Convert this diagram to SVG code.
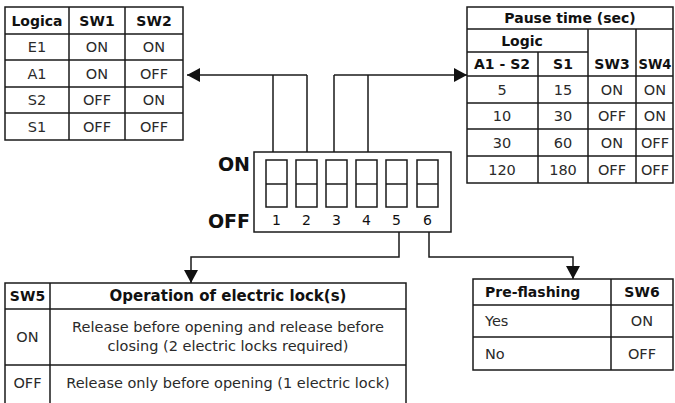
<svg xmlns="http://www.w3.org/2000/svg" width="675" height="403" viewBox="0 0 675 403">
<defs>
<style>
.ln{stroke:#1a1a1a;stroke-width:1.5;fill:none}
.bx{stroke:#1a1a1a;stroke-width:1.5;fill:#fff}
text{font-family:"DejaVu Sans","Liberation Sans",sans-serif;font-size:14.5px;fill:#2a2a2a;text-anchor:middle}
.b{font-weight:bold;font-size:14px;fill:#111}
.l{text-anchor:start}
.n{font-size:14px;fill:#111}
.big{font-size:19px;font-weight:bold;fill:#111;text-anchor:end}
</style>
<marker id="ah" viewBox="0 0 14 14" refX="13" refY="7" markerWidth="14" markerHeight="14" markerUnits="userSpaceOnUse" orient="auto">
<path d="M0,0 L13,7 L0,14 Z" fill="#111"/>
</marker>
</defs>
<rect width="675" height="403" fill="#fff"/>

<g id="table-logica">
<rect class="bx" x="5" y="7" width="178" height="133"/>
<path class="ln" d="M5 34H183M5 60H183M5 87H183M5 113H183M69 7V140M125 7V140"/>
<text class="b" x="37" y="26">Logica</text>
<text class="b" x="97" y="26">SW1</text>
<text class="b" x="154" y="26">SW2</text>
<text x="37" y="52">E1</text><text x="97" y="52">ON</text><text x="154" y="52">ON</text>
<text x="37" y="79">A1</text><text x="97" y="79">ON</text><text x="154" y="79">OFF</text>
<text x="37" y="105">S2</text><text x="97" y="105">OFF</text><text x="154" y="105">ON</text>
<text x="37" y="132">S1</text><text x="97" y="132">OFF</text><text x="154" y="132">OFF</text>
</g>

<g id="table-pause">
<rect class="bx" x="467" y="7" width="206" height="176"/>
<path class="ln" d="M467 29H673M467 52H588M467 76H673M467 103H673M467 129H673M467 156H673M538 52V183M588 29V183M636 29V183"/>
<text class="b" x="570" y="23">Pause time (sec)</text>
<text class="b" x="522" y="46">Logic</text>
<text class="b" x="502" y="69">A1 - S2</text>
<text class="b" x="563" y="69">S1</text>
<text class="b" x="612" y="69">SW3</text>
<text class="b" x="655" y="69" textLength="33" lengthAdjust="spacingAndGlyphs">SW4</text>
<text x="502" y="95">5</text><text x="563" y="95">15</text><text x="612" y="95">ON</text><text x="655" y="95">ON</text>
<text x="502" y="121">10</text><text x="563" y="121">30</text><text x="612" y="121">OFF</text><text x="655" y="121">ON</text>
<text x="502" y="148">30</text><text x="563" y="148">60</text><text x="612" y="148">ON</text><text x="655" y="148">OFF</text>
<text x="502" y="175">120</text><text x="563" y="175">180</text><text x="612" y="175">OFF</text><text x="655" y="175">OFF</text>
</g>

<g id="dip-switch">
<rect class="bx" x="254" y="152" width="197" height="80"/>
<g class="ln">
<rect x="266" y="160" width="21" height="47"/><path d="M266 184H287"/>
<rect x="296" y="160" width="21" height="47"/><path d="M296 184H317"/>
<rect x="326" y="160" width="21" height="47"/><path d="M326 184H347"/>
<rect x="356" y="160" width="21" height="47"/><path d="M356 184H377"/>
<rect x="386" y="160" width="21" height="47"/><path d="M386 184H407"/>
<rect x="417" y="160" width="21" height="47"/><path d="M417 184H438"/>
</g>
<text class="n" x="276.5" y="225">1</text><text class="n" x="306.5" y="225">2</text><text class="n" x="336.5" y="225">3</text>
<text class="n" x="366.5" y="225">4</text><text class="n" x="396.5" y="225">5</text><text class="n" x="427.5" y="225">6</text>
<text class="big" x="250" y="171">ON</text>
<text class="big" x="250" y="228">OFF</text>
</g>

<g id="connectors">
<path class="ln" d="M307 75H187" marker-end="url(#ah)"/>
<path class="ln" d="M273 152V75M307 152V75"/>
<path class="ln" d="M334 75H467" marker-end="url(#ah)"/>
<path class="ln" d="M334 152V75M368 152V75"/>
<path class="ln" d="M399 232V257H191V283" marker-end="url(#ah)"/>
<path class="ln" d="M429 232V257H573V279" marker-end="url(#ah)"/>
</g>

<g id="table-sw5">
<path class="ln" d="M5 403V283H406V403M50 283V403M5 309H406M5 365H406"/>
<text class="b" x="27.5" y="301">SW5</text>
<text class="b" x="228" y="301" style="font-size:15px">Operation of electric lock(s)</text>
<text x="27.5" y="342">ON</text>
<text x="228" y="332">Release before opening and release before</text>
<text x="228" y="351">closing (2 electric locks required)</text>
<text x="27.5" y="388">OFF</text>
<text x="228" y="388">Release only before opening (1 electric lock)</text>
</g>

<g id="table-sw6">
<rect class="bx" x="473" y="279" width="200" height="91"/>
<path class="ln" d="M473 305H673M473 337H673M611 279V370"/>
<text class="b l" x="485" y="297">Pre-flashing</text>
<text class="b" x="642" y="297">SW6</text>
<text class="l" x="485" y="326">Yes</text>
<text x="642" y="326">ON</text>
<text class="l" x="485" y="359">No</text>
<text x="642" y="359">OFF</text>
</g>
</svg>
